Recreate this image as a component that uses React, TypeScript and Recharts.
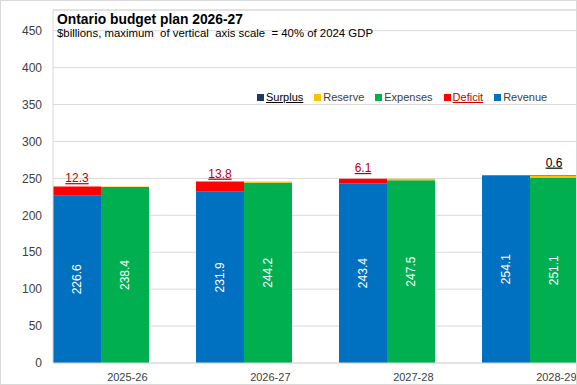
import React from "react";
import {
  BarChart,
  Bar,
  XAxis,
  YAxis,
  CartesianGrid,
  LabelList,
  ReferenceLine,
} from "recharts";

const years = ["2025-26", "2026-27", "2027-28", "2028-29"];
const revenue = [226.6, 231.9, 243.4, 254.1];
const deficit = [12.3, 13.8, 6.1, 0];
const expenses = [238.4, 244.2, 247.5, 251.1];
const reserve = [0.5, 1.5, 2.0, 2.4];
const surplus = [0, 0, 0, 0.6];

const yTicks = [0, 50, 100, 150, 200, 250, 300, 350, 400, 450];
// top of the vertical axis = 40% of 2024 GDP
const yMax = 478;

const legendItems = [
  { name: "Surplus", color: "#1F3864", text: "#000000", underline: true },
  { name: "Reserve", color: "#FFC000", text: "#404040", underline: false },
  { name: "Expenses", color: "#00B050", text: "#404040", underline: false },
  { name: "Deficit", color: "#FF0000", text: "#C00000", underline: true },
  { name: "Revenue", color: "#0070C0", text: "#404040", underline: false },
];

const data = years.map((year, i) => ({
  year,
  revenue: revenue[i],
  deficit: deficit[i],
  expenses: expenses[i],
  reserve: reserve[i],
  surplus: surplus[i],
}));

const SANS = '"Liberation Sans", Arial, sans-serif';
const GRID = "#d9d9d9";

const InsideLabel = (props: any) => {
  const { x, y, width, height, value } = props;
  if (!value) return null;
  const cx = x + width / 2;
  const cy = y + height / 2;
  return (
    <text
      x={cx}
      y={cy}
      transform={`rotate(-90 ${cx} ${cy})`}
      textAnchor="middle"
      dominantBaseline="central"
      fill="#ffffff"
      fontSize={12}
      fontFamily={SANS}
    >
      {Number(value).toFixed(1)}
    </text>
  );
};

// deficit / surplus labels sit a little above the middle of their thin segment
const topLabel = (color: string) => (props: any) => {
  const { x, y, width, height, value } = props;
  if (!value) return null;
  return (
    <text
      x={x + width / 2}
      y={y + height / 2 - 9}
      textAnchor="middle"
      fill={color}
      fontSize={12}
      fontFamily={SANS}
      style={{ textDecoration: "underline" }}
    >
      {Number(value).toFixed(1)}
    </text>
  );
};

const XTick = (props: any) => {
  const { x, y, payload } = props;
  return (
    <text
      x={x + 47}
      y={y + 10}
      textAnchor="end"
      fill="#404040"
      fontSize={11}
      fontFamily={SANS}
    >
      {payload.value}
    </text>
  );
};

export default function App() {
  return (
    <div
      style={{
        position: "fixed",
        left: 0,
        top: 0,
        width: 577,
        height: 385,
        overflow: "hidden",
        background: "#ffffff",
      }}
    >
      <BarChart
        width={601}
        height={385}
        data={data}
        margin={{ top: 10, right: 0, bottom: 0, left: 0 }}
        barCategoryGap={24}
        barGap={0}
      >
        <CartesianGrid vertical={false} stroke={GRID} />
        <XAxis
          dataKey="year"
          padding={{ left: -24, right: 0 }}
          height={22}
          axisLine={{ stroke: GRID }}
          tickLine={false}
          tick={<XTick />}
          interval={0}
        />
        <YAxis
          domain={[0, yMax]}
          ticks={yTicks}
          width={53}
          axisLine={{ stroke: GRID }}
          tickLine={false}
          tickSize={0}
          tickMargin={11}
          tick={{ fill: "#404040", fontSize: 12, fontFamily: SANS }}
          allowDataOverflow
        />
        <ReferenceLine y={yMax} stroke={GRID} />
        <Bar dataKey="revenue" stackId="a" fill="#0070C0" isAnimationActive={false}>
          <LabelList dataKey="revenue" content={InsideLabel} />
        </Bar>
        <Bar dataKey="deficit" stackId="a" fill="#FF0000" isAnimationActive={false}>
          <LabelList dataKey="deficit" content={topLabel("#C00000")} />
        </Bar>
        <Bar dataKey="expenses" stackId="b" fill="#00B050" isAnimationActive={false}>
          <LabelList dataKey="expenses" content={InsideLabel} />
        </Bar>
        <Bar dataKey="reserve" stackId="b" fill="#FFC000" isAnimationActive={false} />
        <Bar dataKey="surplus" stackId="b" fill="#1F3864" isAnimationActive={false}>
          <LabelList dataKey="surplus" content={topLabel("#000000")} />
        </Bar>
      </BarChart>

      <svg
        width={577}
        height={60}
        style={{ position: "absolute", left: 0, top: 0, pointerEvents: "none" }}
      >
        <text
          x={57}
          y={23.5}
          fontSize={15}
          fontWeight="bold"
          fontFamily={SANS}
          fill="#000000"
          textLength={186}
          lengthAdjust="spacingAndGlyphs"
        >
          Ontario budget plan 2026-27
        </text>
        <text
          x={57}
          y={37}
          fontSize={11}
          fontFamily={SANS}
          fill="#000000"
          textLength={316}
          lengthAdjust="spacingAndGlyphs"
          style={{ whiteSpace: "pre" }}
        >
          {"$billions, maximum  of vertical  axis scale  = 40% of 2024 GDP"}
        </text>
      </svg>

      <div
        style={{
          position: "absolute",
          left: 257,
          top: 90,
          display: "flex",
          gap: 11,
          fontFamily: SANS,
          fontSize: 11,
          lineHeight: "14px",
        }}
      >
        {legendItems.map((item) => (
          <div key={item.name} style={{ display: "flex", alignItems: "center", gap: 2 }}>
            <span style={{ width: 7, height: 7, background: item.color, display: "inline-block" }} />
            <span
              style={{
                color: item.text,
                textDecoration: item.underline ? "underline" : "none",
              }}
            >
              {item.name}
            </span>
          </div>
        ))}
      </div>

      <div
        style={{
          position: "absolute",
          left: 0,
          top: 0,
          width: 577,
          height: 385,
          boxSizing: "border-box",
          border: `1px solid ${GRID}`,
          pointerEvents: "none",
        }}
      />
    </div>
  );
}
